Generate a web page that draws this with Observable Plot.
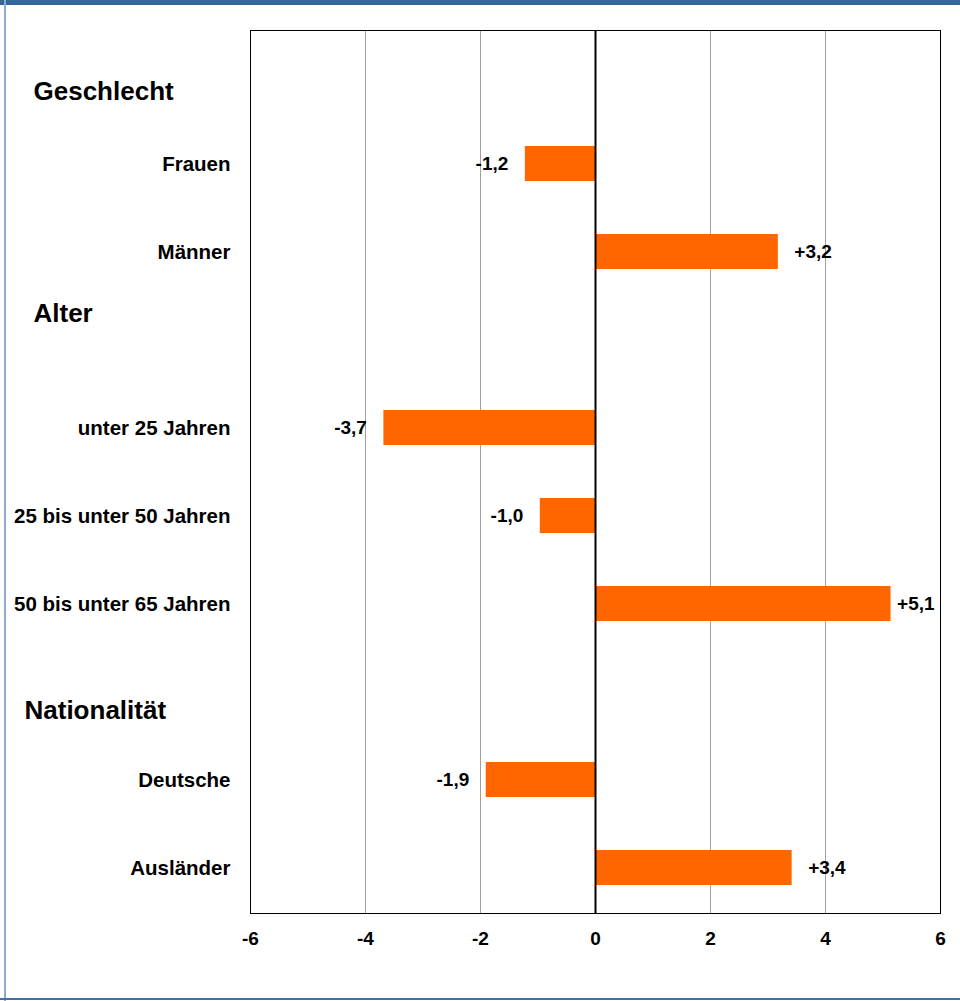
<!DOCTYPE html>
<html>
<head>
<meta charset="utf-8">
<script src="https://cdn.jsdelivr.net/npm/d3@7"></script>
<script src="https://cdn.jsdelivr.net/npm/@observablehq/plot@0.6"></script>
<style>
  html, body { margin: 0; padding: 0; background: #fff; }
  #wrap { position: relative; width: 960px; height: 1001px; overflow: hidden; font-family: "Liberation Sans", Arial, sans-serif; }
  #wrap svg { position: absolute; left: 0; top: 0; }
  .b { position: absolute; }
</style>
</head>
<body>
<div id="wrap">
  <div class="b" style="left:0;top:0;width:960px;height:5px;background:#336699"></div>
  <div class="b" style="left:4px;top:0;width:2px;height:1001px;background:#8eaad0"></div>
  <div class="b" style="left:0;top:998px;width:960px;height:2px;background:#4070a8"></div>
</div>
<script>
// Row keys (top to bottom); "_h" rows are blank slots for group headings
const rows = ["Geschlecht_h", "Frauen", "Männer", "Alter_h", "unter 25 Jahren", "25 bis unter 50 Jahren", "50 bis unter 65 Jahren", "Nationalität_h", "Deutsche", "Ausländer"];
const categories = ["Frauen", "Männer", "unter 25 Jahren", "25 bis unter 50 Jahren", "50 bis unter 65 Jahren", "Deutsche", "Ausländer"];
const values = [-1.22, 3.18, -3.68, -0.96, 5.14, -1.9, 3.42];
const labels = ["-1,2", "+3,2", "-3,7", "-1,0", "+5,1", "-1,9", "+3,4"];
const headings = ["Geschlecht", "Alter", "Nationalität"];
const headingRows = ["Geschlecht_h", "Alter_h", "Nationalität_h"];
const xTicks = [-6, -4, -2, 0, 2, 4, 6];

const data = categories.map((c, i) => ({cat: c, v: values[i], label: labels[i]}));
const heads = headings.map((h, i) => ({name: h, row: headingRows[i]}));
// heading placement offsets (style)
const headStyle = {
  "Geschlecht": {dx: -217, dy: 16},
  "Alter": {dx: -217, dy: -26},
  "Nationalität": {dx: -226, dy: 19}
};
// label squeezed near right frame edge (style)
const tightLabels = ["50 bis unter 65 Jahren"];

const font = "Liberation Sans, Arial, sans-serif";

const chart = Plot.plot({
  width: 960,
  height: 1001,
  marginLeft: 250,
  marginRight: 20,
  marginTop: 30,
  marginBottom: 88,
  style: {fontFamily: font, background: "transparent", overflow: "visible"},
  x: {domain: [-6, 6], ticks: xTicks, label: null},
  y: {domain: rows, paddingInner: 0.6, paddingOuter: 0.3, label: null},
  marks: [
    Plot.gridX(xTicks.filter(t => t !== 0 && Math.abs(t) !== 6), {stroke: "#a0a0a0", strokeOpacity: 1, strokeWidth: 1}),
    Plot.barX(data, {x: "v", y: "cat", fill: "#ff6600"}),
    Plot.ruleX([0], {stroke: "#000", strokeWidth: 2}),
    Plot.frame({stroke: "#000", strokeWidth: 1}),
    Plot.axisX({ticks: xTicks, tickSize: 0, tickPadding: 18, fontSize: 19, fontWeight: "bold", tickFormat: d => String(d).replace("−", "-"), label: null}),
    Plot.axisY({tickSize: 0, tickPadding: 20, fontSize: 20.5, fontWeight: "bold", tickFormat: d => d.endsWith("_h") ? "" : d, label: null}),
    Plot.text(data.filter(d => d.v < 0), {
      x: "v", y: "cat", text: "label", textAnchor: "end", dx: -17,
      fontSize: 19, fontWeight: "bold", fill: "#000"
    }),
    Plot.text(data.filter(d => d.v >= 0 && !tightLabels.includes(d.cat)), {
      x: "v", y: "cat", text: "label", textAnchor: "start", dx: 16,
      fontSize: 19, fontWeight: "bold", fill: "#000"
    }),
    Plot.text(data.filter(d => d.v >= 0 && tightLabels.includes(d.cat)), {
      x: "v", y: "cat", text: "label", textAnchor: "start", dx: 6,
      fontSize: 19, fontWeight: "bold", fill: "#000"
    }),
    ...heads.map(h => Plot.text([h], {
      y: "row", text: "name", frameAnchor: "left", textAnchor: "start",
      dx: headStyle[h.name].dx, dy: headStyle[h.name].dy,
      fontSize: 26, fontWeight: "bold", fill: "#000"
    }))
  ]
});

document.getElementById("wrap").appendChild(chart);
</script>
</body>
</html>
